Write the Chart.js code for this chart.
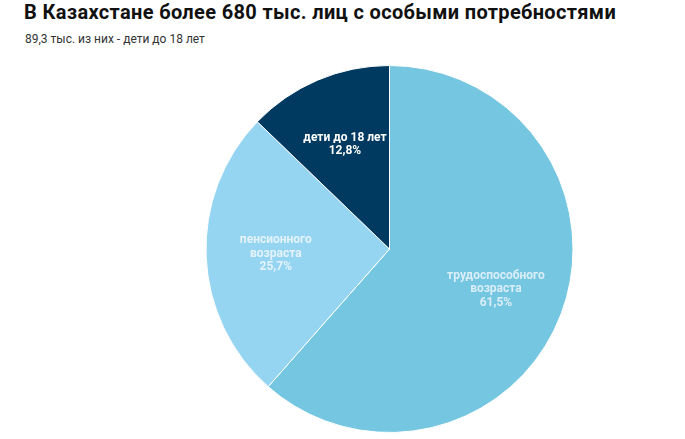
<!DOCTYPE html>
<html>
<head>
<meta charset="utf-8">
<script src="https://cdn.jsdelivr.net/npm/chart.js@4"></script>
<style>
  html, body { margin: 0; padding: 0; background: #fff; width: 685px; height: 439px; overflow: hidden; font-family: Roboto, sans-serif; }
  #title { position: absolute; left: 24px; top: 0px; font-size: 20px; line-height: 24px; letter-spacing: 0.35px; font-weight: bold; color: #111; white-space: nowrap; }
  #subtitle { position: absolute; left: 25px; top: 32px; font-size: 12px; line-height: 14px; color: #333; white-space: nowrap; }
  #wrap { position: absolute; left: 0; top: 63px; width: 685px; height: 373px; }
</style>
</head>
<body>
<div id="title">В Казахстане более 680 тыс. лиц с особыми потребностями</div>
<div id="subtitle">89,3 тыс. из них - дети до 18 лет</div>
<div id="wrap"><canvas id="c"></canvas></div>
<script>
const categories = ["трудоспособного возраста", "пенсионного возраста", "дети до 18 лет"];
const labelLines = [["трудоспособного", "возраста"], ["пенсионного", "возраста"], ["дети до 18 лет"]];
const values = [61.5, 25.7, 12.8];
const colors = ["#74c6e1", "#95d5f1", "#003a61"];
const labelColors = ["#daeef7", "#e4f3fb", "#ffffff"];

const sliceLabels = {
  id: "sliceLabels",
  afterDatasetsDraw(chart) {
    const ctx = chart.ctx;
    const meta = chart.getDatasetMeta(0);
    meta.data.forEach((arc, i) => {
      const p = arc.getProps(["x", "y", "startAngle", "endAngle", "outerRadius"], true);
      const mid = (p.startAngle + p.endAngle) / 2;
      const r = p.outerRadius * 0.62;
      const cx = p.x + Math.cos(mid) * r;
      const cy = p.y + Math.sin(mid) * r;
      const lines = labelLines[i].concat([values[i].toFixed(1).replace(".", ",") + "%"]);
      const lh = 13.5;
      ctx.save();
      ctx.font = "bold 12px Roboto";
      ctx.fillStyle = labelColors[i];
      ctx.textAlign = "center";
      ctx.textBaseline = "middle";
      lines.forEach((t, k) => {
        ctx.fillText(t, cx, cy + (k - (lines.length - 1) / 2) * lh);
      });
      ctx.restore();
    });
  }
};

new Chart(document.getElementById("c"), {
  type: "pie",
  data: {
    labels: categories,
    datasets: [{
      data: values,
      backgroundColor: colors,
      borderColor: "#ffffff",
      borderWidth: 1
    }]
  },
  options: {
    responsive: true,
    maintainAspectRatio: false,
    animation: false,
    layout: { padding: { left: 100, right: 6, top: 2, bottom: 3 } },
    plugins: {
      legend: { display: false },
      tooltip: { enabled: false }
    }
  },
  plugins: [sliceLabels]
});
</script>
</body>
</html>
